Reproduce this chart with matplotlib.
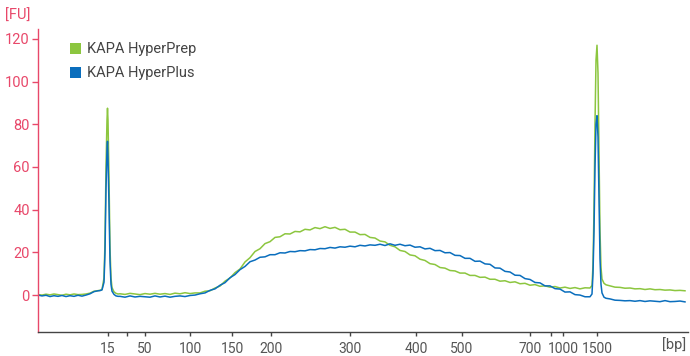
import matplotlib
matplotlib.use("Agg")
import matplotlib.pyplot as plt
from matplotlib.patches import Patch

# ---- data (x = migration position on the axis, y = fluorescence [FU]) ----
x_left = [38, 42, 46, 50, 54, 58, 62, 66, 70, 74, 78, 82, 86, 90, 94, 98]
prep_left = [0.2, 0.0, 0.4, 0.1, 0.5, 0.2, -0.1, 0.4, 0.1, 0.5, 0.2, 0.3, 0.5, 0.9, 1.8, 2.1]
plus_left = [0.0, -0.4, -0.1, -0.7, -0.3, -0.6, -0.2, -0.7, -0.3, -0.6, -0.1, -0.5, 0.0, 0.6, 1.6, 2.0]

x_peak1 = [100, 102, 104, 105, 106, 107, 107.5, 108, 109, 110, 111, 112, 114, 116, 118]
prep_peak1 = [2.2, 2.6, 8, 25, 60, 82, 87.5, 82, 55, 22, 8, 3.5, 1.5, 0.8, 0.5]
plus_peak1 = [2.1, 2.4, 6, 20, 50, 68, 72, 64, 42, 16, 5, 1.8, 0.3, -0.4, -0.6]

x_mid = [120, 125, 130, 135, 140, 145, 150, 155, 160, 165, 170, 175, 180, 185, 190,
         195, 200, 205, 210, 215, 220, 225, 230, 235, 240, 245, 250, 255, 260, 265,
         270, 275, 280, 285, 290, 295, 300, 305, 310, 315, 320, 325, 330, 335, 340,
         345, 350, 355, 360, 365, 370, 375, 380, 385, 390, 395, 400, 405, 410, 415,
         420, 425, 430, 435, 440, 445, 450, 455, 460, 465, 470, 475, 480, 485, 490,
         495, 500, 505, 510, 515, 520, 525, 530, 535, 540, 545, 550, 555, 560, 565,
         570, 575, 580, 585, 590]
prep_mid = [0.6, 0.3, 0.8, 0.5, 0.2, 0.7, 0.4, 0.8, 0.4, 0.7, 0.3, 0.9, 0.6, 1.1, 0.7,
            1.0, 1.0, 1.8, 2.0, 3.3, 4.2, 6.5, 8.0, 10.5, 12.2, 15.5, 17.5, 20.4, 21.7, 24.1,
            25.0, 27.0, 27.3, 28.7, 28.6, 29.8, 29.6, 30.8, 30.5, 31.6, 31.1, 32.0, 31.2, 31.7, 30.6,
            30.8, 29.5, 29.5, 28.3, 28.4, 27.0, 26.7, 25.3, 24.9, 23.3, 22.6, 20.9, 20.4, 18.8, 18.4,
            16.8, 16.2, 14.7, 14.3, 12.9, 12.6, 11.5, 11.3, 10.3, 10.3, 9.2, 9.2, 8.3, 8.4, 7.4,
            7.4, 6.5, 6.7, 5.9, 6.2, 5.3, 5.5, 4.6, 4.9, 4.1, 4.3, 3.7, 4.0, 3.3, 3.7,
            3.1, 3.5, 2.9, 3.4, 3.3]
plus_mid = [-0.6, -1.0, -0.4, -0.9, -0.6, -0.8, -1.0, -0.4, -0.9, -0.5, -1.0, -0.6, -0.4, -0.7, -0.2,
            0.0, 0.6, 1.0, 2.2, 2.9, 4.6, 5.8, 8.1, 9.6, 11.9, 13.4, 15.6, 16.4, 17.7, 17.9,
            18.9, 18.9, 19.8, 19.7, 20.4, 20.3, 20.8, 20.7, 21.3, 21.2, 21.8, 21.7, 22.3, 22.0, 22.6,
            22.4, 22.9, 22.6, 23.3, 23.0, 23.5, 23.3, 23.8, 23.2, 24.0, 23.3, 23.8, 23.1, 23.4, 22.4,
            22.6, 21.6, 21.9, 20.8, 20.9, 19.8, 19.9, 18.6, 18.5, 17.2, 17.2, 15.8, 15.9, 14.6, 14.4,
            12.7, 12.6, 11.1, 10.8, 9.3, 9.2, 7.7, 7.3, 5.9, 5.7, 4.3, 4.3, 3.0, 2.8, 1.4,
            1.5, 0.2, 0.0, -0.8, -0.8]

x_peak2 = [592, 593, 594, 595, 596, 597, 598, 599, 600, 601, 602, 604, 606]
prep_peak2 = [4.5, 14, 40, 80, 110, 117, 104, 66, 30, 13, 7.5, 5.5, 4.8]
plus_peak2 = [0.5, 10, 30, 60, 80, 84, 74, 45, 17, 5, 1.0, -1.0, -1.5]

x_right = [610, 615, 620, 625, 630, 635, 640, 645, 650, 655, 660, 665, 670, 675, 680, 685]
prep_right = [4.3, 3.7, 3.6, 3.2, 3.3, 2.9, 3.0, 2.6, 2.9, 2.5, 2.6, 2.3, 2.4, 2.1, 2.2, 2.0]
plus_right = [-1.8, -2.4, -2.5, -2.7, -2.6, -2.9, -2.6, -3.0, -2.7, -2.9, -3.1, -2.6, -3.1, -3.0, -2.8, -3.2]

series_names = ["KAPA HyperPrep", "KAPA HyperPlus"]
bp_tick_pos = [108, 127, 145, 190, 232, 271, 350, 416, 462, 530, 551, 563, 597]
bp_tick_labels = ["15", "", "50", "100", "150", "200", "300", "400", "500", "700", "", "1000", "1500"]
fu_ticks = [0, 20, 40, 60, 80, 100, 120]

# ---- assemble ----
x_all = x_left + x_peak1 + x_mid + x_peak2 + x_right
prep = prep_left + prep_peak1 + prep_mid + prep_peak2 + prep_right
plus = plus_left + plus_peak1 + plus_mid + plus_peak2 + plus_right

GREEN = "#8CC63F"
BLUE = "#0A6EBD"
RED = "#E8486A"
GRAY = "#555555"

plt.rcParams['font.family'] = ['Roboto', 'DejaVu Sans']

fig = plt.figure(figsize=(6.9, 3.56), dpi=100)
ax = fig.add_axes([38 / 690, 1 - 332 / 356, (688 - 38) / 690, (332 - 29) / 356])

ax.plot(x_all, prep, color=GREEN, lw=1.1)
ax.plot(x_all, plus, color=BLUE, lw=1.1)

ax.set_xlim(38, 688)
ax.set_ylim(-17.3, 124.6)

ax.spines['top'].set_visible(False)
ax.spines['right'].set_visible(False)
ax.spines['left'].set_color(RED)
ax.spines['left'].set_linewidth(1.0)
ax.spines['bottom'].set_color("#444444")
ax.spines['bottom'].set_linewidth(1.0)

ax.set_yticks(fu_ticks)
ax.tick_params(axis='y', colors=RED, labelcolor=RED, length=4, width=1.0,
               direction='out', labelsize=10.5, pad=2)
ax.set_xticks(bp_tick_pos)
ax.set_xticklabels(bp_tick_labels)
ax.tick_params(axis='x', colors="#444444", labelcolor=GRAY, length=3, width=1.0,
               direction='out', labelsize=10, pad=4)

fig.text(5 / 690, 1 - 16 / 356, "[FU]", color=RED, fontsize=10.5, va='center', ha='left')
fig.text(686 / 690, 1 - 345 / 356, "[bp]", color=GRAY, fontsize=10.5, va='center', ha='right')

handles = [Patch(facecolor=GREEN, edgecolor='none'), Patch(facecolor=BLUE, edgecolor='none')]
leg = ax.legend(handles, series_names, loc='upper left', bbox_to_anchor=(0.033, 0.99),
                frameon=False, fontsize=10.5, handlelength=0.8, handleheight=0.8,
                handletextpad=0.4, labelspacing=0.7, borderaxespad=0.3)
for t in leg.get_texts():
    t.set_color("#444444")

fig.savefig("out.png", dpi=100)
